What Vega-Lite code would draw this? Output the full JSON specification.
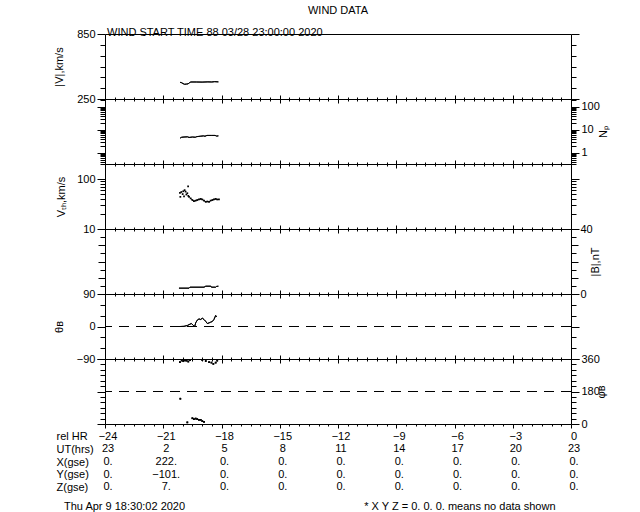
{
  "$schema": "https://vega.github.io/schema/vega-lite/v6.json",
  "background": "white",
  "padding": {"left": 52, "top": 4, "right": 5, "bottom": 0},
  "title": {"text": "WIND DATA", "fontSize": 11, "fontWeight": "normal", "font": "Liberation Sans", "color": "black", "anchor": "middle", "frame": "group", "offset": 11},
  "spacing": 0,
  "bounds": "flush",
  "datasets": {
    "v": [
      {"hr": -20.13, "v": 404}, {"hr": -20.05, "v": 400}, {"hr": -19.98, "v": 392}, {"hr": -19.9, "v": 386},
      {"hr": -19.8, "v": 388}, {"hr": -19.72, "v": 390}, {"hr": -19.65, "v": 400}, {"hr": -19.58, "v": 407},
      {"hr": -19.3, "v": 407}, {"hr": -19.0, "v": 406}, {"hr": -18.7, "v": 408}, {"hr": -18.5, "v": 407},
      {"hr": -18.35, "v": 410}, {"hr": -18.16, "v": 408}
    ],
    "np": [
      {"hr": -20.13, "n": 4.4}, {"hr": -20.05, "n": 4.8}, {"hr": -19.93, "n": 4.9}, {"hr": -19.75, "n": 5.0},
      {"hr": -19.67, "n": 4.7}, {"hr": -19.5, "n": 4.9}, {"hr": -19.35, "n": 4.8}, {"hr": -19.27, "n": 5.1},
      {"hr": -19.1, "n": 5.3}, {"hr": -18.93, "n": 5.5}, {"hr": -18.85, "n": 5.3}, {"hr": -18.75, "n": 5.75},
      {"hr": -18.5, "n": 5.75}, {"hr": -18.33, "n": 5.75}, {"hr": -18.25, "n": 5.4}, {"hr": -18.16, "n": 5.5}
    ],
    "vth": [
      {"hr": -20.14, "vth": 53, "seg": "s"}, {"hr": -20.12, "vth": 44, "seg": "s"}, {"hr": -20.07, "vth": 55, "seg": "s"},
      {"hr": -20.0, "vth": 50, "seg": "s"}, {"hr": -19.97, "vth": 57, "seg": "s"}, {"hr": -19.93, "vth": 45, "seg": "s"},
      {"hr": -19.9, "vth": 60, "seg": "s"}, {"hr": -19.85, "vth": 56, "seg": "s"}, {"hr": -19.81, "vth": 49, "seg": "s"},
      {"hr": -19.76, "vth": 52, "seg": "s"}, {"hr": -19.71, "vth": 46, "seg": "s"}, {"hr": -19.72, "vth": 71, "seg": "s"},
      {"hr": -19.67, "vth": 44, "seg": "s"},
      {"hr": -19.59, "vth": 41, "seg": "c"}, {"hr": -19.5, "vth": 38, "seg": "c"}, {"hr": -19.42, "vth": 36, "seg": "c"},
      {"hr": -19.33, "vth": 37, "seg": "c"}, {"hr": -19.25, "vth": 38, "seg": "c"}, {"hr": -19.16, "vth": 39, "seg": "c"},
      {"hr": -19.07, "vth": 40, "seg": "c"}, {"hr": -18.99, "vth": 39, "seg": "c"}, {"hr": -18.9, "vth": 37, "seg": "c"},
      {"hr": -18.81, "vth": 35, "seg": "c"}, {"hr": -18.73, "vth": 35.5, "seg": "c"}, {"hr": -18.64, "vth": 35, "seg": "c"},
      {"hr": -18.56, "vth": 37, "seg": "c"}, {"hr": -18.47, "vth": 38, "seg": "c"}, {"hr": -18.39, "vth": 39, "seg": "c"},
      {"hr": -18.3, "vth": 40, "seg": "c"}, {"hr": -18.22, "vth": 39, "seg": "c"}, {"hr": -18.13, "vth": 39, "seg": "c"}
    ],
    "b": [
      {"hr": -20.19, "b": 3.6}, {"hr": -19.67, "b": 3.6}, {"hr": -19.62, "b": 4.2}, {"hr": -18.9, "b": 4.2},
      {"hr": -18.81, "b": 4.8}, {"hr": -18.55, "b": 4.8}, {"hr": -18.52, "b": 4.2}, {"hr": -18.3, "b": 4.2},
      {"hr": -18.25, "b": 4.7}, {"hr": -18.16, "b": 4.8}
    ],
    "theta": [
      {"hr": -20.14, "t": 0}, {"hr": -19.93, "t": 0.5}, {"hr": -19.76, "t": 2.8}, {"hr": -19.62, "t": 6.5},
      {"hr": -19.55, "t": 8.3}, {"hr": -19.45, "t": 2.8}, {"hr": -19.38, "t": 0}, {"hr": -19.33, "t": 10},
      {"hr": -19.25, "t": 17.5}, {"hr": -19.16, "t": 21}, {"hr": -19.07, "t": 19.4}, {"hr": -18.99, "t": 23},
      {"hr": -18.9, "t": 19.4}, {"hr": -18.81, "t": 13.9}, {"hr": -18.73, "t": 8.3}, {"hr": -18.64, "t": 10},
      {"hr": -18.56, "t": 12}, {"hr": -18.47, "t": 13.9}, {"hr": -18.39, "t": 19.4}, {"hr": -18.3, "t": 30.5},
      {"hr": -18.25, "t": 26.8}
    ],
    "phi": [
      {"hr": -20.14, "p": 343}, {"hr": -20.05, "p": 352}, {"hr": -19.97, "p": 348}, {"hr": -19.88, "p": 353},
      {"hr": -19.8, "p": 351}, {"hr": -19.71, "p": 346}, {"hr": -19.62, "p": 354}, {"hr": -20.12, "p": 140},
      {"hr": -19.76, "p": 9}, {"hr": -19.5, "p": 32}, {"hr": -19.42, "p": 27}, {"hr": -19.33, "p": 30},
      {"hr": -19.25, "p": 27}, {"hr": -19.16, "p": 23}, {"hr": -19.07, "p": 23}, {"hr": -18.99, "p": 16},
      {"hr": -18.9, "p": 12}, {"hr": -18.99, "p": 354}, {"hr": -18.81, "p": 349}, {"hr": -18.64, "p": 343},
      {"hr": -18.52, "p": 340}, {"hr": -18.42, "p": 333}, {"hr": -18.3, "p": 340}, {"hr": -18.22, "p": 351}
    ],
    "table": [
      {"row": "rel HR", "hr": -24, "text": "−24"}, {"row": "rel HR", "hr": -21, "text": "−21"}, {"row": "rel HR", "hr": -18, "text": "−18"},
      {"row": "rel HR", "hr": -15, "text": "−15"}, {"row": "rel HR", "hr": -12, "text": "−12"}, {"row": "rel HR", "hr": -9, "text": "−9"},
      {"row": "rel HR", "hr": -6, "text": "−6"}, {"row": "rel HR", "hr": -3, "text": "−3"}, {"row": "rel HR", "hr": 0, "text": "0"},
      {"row": "UT(hrs)", "hr": -24, "text": "23"}, {"row": "UT(hrs)", "hr": -21, "text": "2"}, {"row": "UT(hrs)", "hr": -18, "text": "5"},
      {"row": "UT(hrs)", "hr": -15, "text": "8"}, {"row": "UT(hrs)", "hr": -12, "text": "11"}, {"row": "UT(hrs)", "hr": -9, "text": "14"},
      {"row": "UT(hrs)", "hr": -6, "text": "17"}, {"row": "UT(hrs)", "hr": -3, "text": "20"}, {"row": "UT(hrs)", "hr": 0, "text": "23"},
      {"row": "X(gse)", "hr": -24, "text": "0."}, {"row": "X(gse)", "hr": -21, "text": "222."}, {"row": "X(gse)", "hr": -18, "text": "0."},
      {"row": "X(gse)", "hr": -15, "text": "0."}, {"row": "X(gse)", "hr": -12, "text": "0."}, {"row": "X(gse)", "hr": -9, "text": "0."},
      {"row": "X(gse)", "hr": -6, "text": "0."}, {"row": "X(gse)", "hr": -3, "text": "0."}, {"row": "X(gse)", "hr": 0, "text": "0."},
      {"row": "Y(gse)", "hr": -24, "text": "0."}, {"row": "Y(gse)", "hr": -21, "text": "−101."}, {"row": "Y(gse)", "hr": -18, "text": "0."},
      {"row": "Y(gse)", "hr": -15, "text": "0."}, {"row": "Y(gse)", "hr": -12, "text": "0."}, {"row": "Y(gse)", "hr": -9, "text": "0."},
      {"row": "Y(gse)", "hr": -6, "text": "0."}, {"row": "Y(gse)", "hr": -3, "text": "0."}, {"row": "Y(gse)", "hr": 0, "text": "0."},
      {"row": "Z(gse)", "hr": -24, "text": "0."}, {"row": "Z(gse)", "hr": -21, "text": "7."}, {"row": "Z(gse)", "hr": -18, "text": "0."},
      {"row": "Z(gse)", "hr": -15, "text": "0."}, {"row": "Z(gse)", "hr": -12, "text": "0."}, {"row": "Z(gse)", "hr": -9, "text": "0."},
      {"row": "Z(gse)", "hr": -6, "text": "0."}, {"row": "Z(gse)", "hr": -3, "text": "0."}, {"row": "Z(gse)", "hr": 0, "text": "0."}
    ]
  },
  "vconcat": [
    {
      "width": 466, "height": 65,
      "title": {"text": "WIND START TIME  88 03/28 23:00:00 2020", "anchor": "start", "frame": "group", "offset": -10, "dx": 2, "fontSize": 11, "fontWeight": "normal", "font": "Liberation Sans", "color": "black"},
      "resolve": {"axis": {"x": "independent", "y": "independent"}},
      "layer": [
        {
          "data": {"name": "v"},
          "mark": {"type": "line", "color": "black", "strokeWidth": 1},
          "encoding": {
            "x": {"field": "hr", "type": "quantitative", "scale": {"domain": [-24, 0], "nice": false, "zero": false},
              "axis": {"orient": "bottom", "title": null, "labels": false, "values": [-24,-23.5,-23,-22.5,-22,-21.5,-21,-20.5,-20,-19.5,-19,-18.5,-18,-17.5,-17,-16.5,-16,-15.5,-15,-14.5,-14,-13.5,-13,-12.5,-12,-11.5,-11,-10.5,-10,-9.5,-9,-8.5,-8,-7.5,-7,-6.5,-6,-5.5,-5,-4.5,-4,-3.5,-3,-2.5,-2,-1.5,-1,-0.5,0], "tickSize": {"condition": {"test": "datum.value % 3 === 0", "value": 4}, "value": 2}}},
            "y": {"field": "v", "type": "quantitative", "scale": {"domain": [250, 850], "nice": false, "zero": false},
              "axis": {"orient": "left", "title": "|V|,km/s", "values": [250,350,450,550,650,750,850], "tickSize": {"condition": {"test": "datum.value == 250 || datum.value == 850", "value": 8}, "value": 5}, "labelExpr": "datum.value == 250 || datum.value == 850 ? datum.label : ''", "titlePadding": 12}}
          }
        },
        {
          "data": {"name": "v"},
          "mark": {"type": "line", "color": "black", "strokeWidth": 1},
          "encoding": {
            "x": {"field": "hr", "type": "quantitative", "scale": {"domain": [-24, 0], "nice": false, "zero": false}, "axis": null},
            "y": {"field": "v", "type": "quantitative", "scale": {"domain": [250, 850], "nice": false, "zero": false},
              "axis": {"orient": "right", "title": null, "labels": false, "values": [250,350,450,550,650,750,850], "tickSize": {"condition": {"test": "datum.value == 250 || datum.value == 850", "value": 8}, "value": 5}}}
          }
        }
      ]
    },
    {
      "width": 466, "height": 65,
      "resolve": {"axis": {"x": "independent", "y": "independent"}},
      "layer": [
        {
          "data": {"name": "np"},
          "mark": {"type": "line", "color": "black", "strokeWidth": 1},
          "encoding": {
            "x": {"field": "hr", "type": "quantitative", "scale": {"domain": [-24, 0], "nice": false, "zero": false},
              "axis": {"orient": "bottom", "title": null, "labels": false, "values": [-24,-23.5,-23,-22.5,-22,-21.5,-21,-20.5,-20,-19.5,-19,-18.5,-18,-17.5,-17,-16.5,-16,-15.5,-15,-14.5,-14,-13.5,-13,-12.5,-12,-11.5,-11,-10.5,-10,-9.5,-9,-8.5,-8,-7.5,-7,-6.5,-6,-5.5,-5,-4.5,-4,-3.5,-3,-2.5,-2,-1.5,-1,-0.5,0], "tickSize": {"condition": {"test": "datum.value % 3 === 0", "value": 4}, "value": 2}}},
            "y": {"field": "n", "type": "quantitative", "scale": {"type": "log", "domain": [0.33, 220], "nice": false},
              "axis": {"orient": "left", "title": null, "labels": false, "values": [0.4,0.5,0.6,0.7,0.8,0.9,1,2,3,4,5,6,7,8,9,10,20,30,40,50,60,70,80,90,100,200], "tickSize": {"condition": {"test": "datum.value === 1 || datum.value === 10 || datum.value === 100", "value": 8}, "value": 5}}}
          }
        },
        {
          "data": {"name": "np"},
          "mark": {"type": "line", "color": "black", "strokeWidth": 1},
          "encoding": {
            "x": {"field": "hr", "type": "quantitative", "scale": {"domain": [-24, 0], "nice": false, "zero": false},
              "axis": {"orient": "top", "title": null, "labels": false, "values": [-24,-23.5,-23,-22.5,-22,-21.5,-21,-20.5,-20,-19.5,-19,-18.5,-18,-17.5,-17,-16.5,-16,-15.5,-15,-14.5,-14,-13.5,-13,-12.5,-12,-11.5,-11,-10.5,-10,-9.5,-9,-8.5,-8,-7.5,-7,-6.5,-6,-5.5,-5,-4.5,-4,-3.5,-3,-2.5,-2,-1.5,-1,-0.5,0], "tickSize": {"condition": {"test": "datum.value % 3 === 0", "value": 4}, "value": 2}}},
            "y": {"field": "n", "type": "quantitative", "scale": {"type": "log", "domain": [0.33, 220], "nice": false},
              "axis": {"orient": "right", "title": "Nₚ", "titleAngle": 270, "titlePadding": 9, "values": [0.4,0.5,0.6,0.7,0.8,0.9,1,2,3,4,5,6,7,8,9,10,20,30,40,50,60,70,80,90,100,200], "tickSize": {"condition": {"test": "datum.value === 1 || datum.value === 10 || datum.value === 100", "value": 8}, "value": 5}, "labelExpr": "datum.value === 1 || datum.value === 10 || datum.value === 100 ? format(datum.value, 'd') : ''"}}
          }
        }
      ]
    },
    {
      "width": 466, "height": 65,
      "resolve": {"axis": {"x": "independent", "y": "independent"}},
      "layer": [
        {
          "data": {"name": "vth"},
          "mark": {"type": "point", "shape": "square", "filled": true, "size": 3, "color": "black", "opacity": 1},
          "encoding": {
            "x": {"field": "hr", "type": "quantitative", "scale": {"domain": [-24, 0], "nice": false, "zero": false},
              "axis": {"orient": "bottom", "title": null, "labels": false, "values": [-24,-23.5,-23,-22.5,-22,-21.5,-21,-20.5,-20,-19.5,-19,-18.5,-18,-17.5,-17,-16.5,-16,-15.5,-15,-14.5,-14,-13.5,-13,-12.5,-12,-11.5,-11,-10.5,-10,-9.5,-9,-8.5,-8,-7.5,-7,-6.5,-6,-5.5,-5,-4.5,-4,-3.5,-3,-2.5,-2,-1.5,-1,-0.5,0], "tickSize": {"condition": {"test": "datum.value % 3 === 0", "value": 4}, "value": 2}}},
            "y": {"field": "vth", "type": "quantitative", "scale": {"type": "log", "domain": [10, 200], "nice": false},
              "axis": {"orient": "left", "title": "Vₜₕ,km/s", "titlePadding": 10, "values": [10,20,30,40,50,60,70,80,90,100,200], "tickSize": {"condition": {"test": "datum.value === 10 || datum.value === 100", "value": 8}, "value": 5}, "labelExpr": "datum.value === 10 || datum.value === 100 ? format(datum.value, 'd') : ''"}}
          }
        },
        {
          "data": {"name": "vth"},
          "transform": [{"filter": "datum.seg === 'c'"}],
          "mark": {"type": "line", "color": "black", "strokeWidth": 1},
          "encoding": {
            "x": {"field": "hr", "type": "quantitative", "scale": {"domain": [-24, 0], "nice": false, "zero": false},
              "axis": {"orient": "top", "title": null, "labels": false, "values": [-24,-23.5,-23,-22.5,-22,-21.5,-21,-20.5,-20,-19.5,-19,-18.5,-18,-17.5,-17,-16.5,-16,-15.5,-15,-14.5,-14,-13.5,-13,-12.5,-12,-11.5,-11,-10.5,-10,-9.5,-9,-8.5,-8,-7.5,-7,-6.5,-6,-5.5,-5,-4.5,-4,-3.5,-3,-2.5,-2,-1.5,-1,-0.5,0], "tickSize": {"condition": {"test": "datum.value % 3 === 0", "value": 4}, "value": 2}}},
            "y": {"field": "vth", "type": "quantitative", "scale": {"type": "log", "domain": [10, 200], "nice": false},
              "axis": {"orient": "right", "title": null, "labels": false, "values": [10,20,30,40,50,60,70,80,90,100,200], "tickSize": {"condition": {"test": "datum.value === 10 || datum.value === 100", "value": 8}, "value": 5}}}
          }
        }
      ]
    },
    {
      "width": 466, "height": 65,
      "resolve": {"axis": {"x": "independent", "y": "independent"}},
      "layer": [
        {
          "data": {"name": "b"},
          "mark": {"type": "line", "color": "black", "strokeWidth": 1},
          "encoding": {
            "x": {"field": "hr", "type": "quantitative", "scale": {"domain": [-24, 0], "nice": false, "zero": false},
              "axis": {"orient": "bottom", "title": null, "labels": false, "values": [-24,-23.5,-23,-22.5,-22,-21.5,-21,-20.5,-20,-19.5,-19,-18.5,-18,-17.5,-17,-16.5,-16,-15.5,-15,-14.5,-14,-13.5,-13,-12.5,-12,-11.5,-11,-10.5,-10,-9.5,-9,-8.5,-8,-7.5,-7,-6.5,-6,-5.5,-5,-4.5,-4,-3.5,-3,-2.5,-2,-1.5,-1,-0.5,0], "tickSize": {"condition": {"test": "datum.value % 3 === 0", "value": 4}, "value": 2}}},
            "y": {"field": "b", "type": "quantitative", "scale": {"domain": [0, 40], "nice": false},
              "axis": {"orient": "left", "title": null, "labels": false, "values": [0,5,10,15,20,25,30,35,40], "tickSize": {"condition": {"test": "datum.value % 10 === 0", "value": 7}, "value": 5}}}
          }
        },
        {
          "data": {"name": "b"},
          "mark": {"type": "line", "color": "black", "strokeWidth": 1},
          "encoding": {
            "x": {"field": "hr", "type": "quantitative", "scale": {"domain": [-24, 0], "nice": false, "zero": false},
              "axis": {"orient": "top", "title": null, "labels": false, "values": [-24,-23.5,-23,-22.5,-22,-21.5,-21,-20.5,-20,-19.5,-19,-18.5,-18,-17.5,-17,-16.5,-16,-15.5,-15,-14.5,-14,-13.5,-13,-12.5,-12,-11.5,-11,-10.5,-10,-9.5,-9,-8.5,-8,-7.5,-7,-6.5,-6,-5.5,-5,-4.5,-4,-3.5,-3,-2.5,-2,-1.5,-1,-0.5,0], "tickSize": {"condition": {"test": "datum.value % 3 === 0", "value": 4}, "value": 2}}},
            "y": {"field": "b", "type": "quantitative", "scale": {"domain": [0, 40], "nice": false},
              "axis": {"orient": "right", "title": "|B|,nT", "titleAngle": 270, "titlePadding": 8, "values": [0,5,10,15,20,25,30,35,40], "tickSize": {"condition": {"test": "datum.value % 10 === 0", "value": 7}, "value": 5}, "labelExpr": "datum.value === 0 || datum.value === 40 ? format(datum.value, 'd') : ''"}}
          }
        }
      ]
    },
    {
      "width": 466, "height": 65,
      "resolve": {"axis": {"x": "independent", "y": "independent"}},
      "layer": [
        {
          "data": {"name": "theta"},
          "mark": {"type": "line", "color": "black", "strokeWidth": 1},
          "encoding": {
            "x": {"field": "hr", "type": "quantitative", "scale": {"domain": [-24, 0], "nice": false, "zero": false},
              "axis": {"orient": "bottom", "title": null, "labels": false, "values": [-24,-23.5,-23,-22.5,-22,-21.5,-21,-20.5,-20,-19.5,-19,-18.5,-18,-17.5,-17,-16.5,-16,-15.5,-15,-14.5,-14,-13.5,-13,-12.5,-12,-11.5,-11,-10.5,-10,-9.5,-9,-8.5,-8,-7.5,-7,-6.5,-6,-5.5,-5,-4.5,-4,-3.5,-3,-2.5,-2,-1.5,-1,-0.5,0], "tickSize": {"condition": {"test": "datum.value % 3 === 0", "value": 4}, "value": 2}}},
            "y": {"field": "t", "type": "quantitative", "scale": {"domain": [-90, 90], "nice": false},
              "axis": {"orient": "left", "title": "θʙ", "titlePadding": 12, "values": [-90,-60,-30,0,30,60,90], "tickSize": {"condition": {"test": "datum.value % 90 === 0", "value": 8}, "value": 5}, "labelExpr": "datum.value % 90 === 0 ? datum.label : ''"}}
          }
        },
        {
          "data": {"name": "theta"},
          "mark": {"type": "line", "color": "black", "strokeWidth": 1},
          "encoding": {
            "x": {"field": "hr", "type": "quantitative", "scale": {"domain": [-24, 0], "nice": false, "zero": false},
              "axis": {"orient": "top", "title": null, "labels": false, "values": [-24,-23.5,-23,-22.5,-22,-21.5,-21,-20.5,-20,-19.5,-19,-18.5,-18,-17.5,-17,-16.5,-16,-15.5,-15,-14.5,-14,-13.5,-13,-12.5,-12,-11.5,-11,-10.5,-10,-9.5,-9,-8.5,-8,-7.5,-7,-6.5,-6,-5.5,-5,-4.5,-4,-3.5,-3,-2.5,-2,-1.5,-1,-0.5,0], "tickSize": {"condition": {"test": "datum.value % 3 === 0", "value": 4}, "value": 2}}},
            "y": {"field": "t", "type": "quantitative", "scale": {"domain": [-90, 90], "nice": false},
              "axis": {"orient": "right", "title": null, "labels": false, "values": [-90,-60,-30,0,30,60,90], "tickSize": {"condition": {"test": "datum.value % 90 === 0", "value": 8}, "value": 5}}}
          }
        },
        {
          "data": {"values": [{"k": 0}]},
          "mark": {"type": "rule", "color": "black", "strokeWidth": 1, "strokeDash": [10, 7]},
          "encoding": {
            "y": {"datum": 0, "type": "quantitative", "scale": {"domain": [-90, 90], "nice": false}, "axis": null}
          }
        }
      ]
    },
    {
      "width": 466, "height": 65,
      "resolve": {"axis": {"x": "independent", "y": "independent"}},
      "layer": [
        {
          "data": {"name": "phi"},
          "mark": {"type": "point", "shape": "square", "filled": true, "size": 3, "color": "black", "opacity": 1},
          "encoding": {
            "x": {"field": "hr", "type": "quantitative", "scale": {"domain": [-24, 0], "nice": false, "zero": false},
              "axis": {"orient": "bottom", "title": null, "labels": false, "values": [-24,-23.5,-23,-22.5,-22,-21.5,-21,-20.5,-20,-19.5,-19,-18.5,-18,-17.5,-17,-16.5,-16,-15.5,-15,-14.5,-14,-13.5,-13,-12.5,-12,-11.5,-11,-10.5,-10,-9.5,-9,-8.5,-8,-7.5,-7,-6.5,-6,-5.5,-5,-4.5,-4,-3.5,-3,-2.5,-2,-1.5,-1,-0.5,0], "tickSize": {"condition": {"test": "datum.value % 3 === 0", "value": 4}, "value": 2}}},
            "y": {"field": "p", "type": "quantitative", "scale": {"domain": [0, 360], "nice": false},
              "axis": {"orient": "left", "title": null, "labels": false, "values": [0,30,60,90,120,150,180,210,240,270,300,330,360], "tickSize": {"condition": {"test": "datum.value % 180 === 0", "value": 8}, "value": 5}}}
          }
        },
        {
          "data": {"name": "phi"},
          "mark": {"type": "point", "shape": "square", "filled": true, "size": 3, "color": "black", "opacity": 1},
          "encoding": {
            "x": {"field": "hr", "type": "quantitative", "scale": {"domain": [-24, 0], "nice": false, "zero": false},
              "axis": {"orient": "top", "title": null, "labels": false, "values": [-24,-23.5,-23,-22.5,-22,-21.5,-21,-20.5,-20,-19.5,-19,-18.5,-18,-17.5,-17,-16.5,-16,-15.5,-15,-14.5,-14,-13.5,-13,-12.5,-12,-11.5,-11,-10.5,-10,-9.5,-9,-8.5,-8,-7.5,-7,-6.5,-6,-5.5,-5,-4.5,-4,-3.5,-3,-2.5,-2,-1.5,-1,-0.5,0], "tickSize": {"condition": {"test": "datum.value % 3 === 0", "value": 4}, "value": 2}}},
            "y": {"field": "p", "type": "quantitative", "scale": {"domain": [0, 360], "nice": false},
              "axis": {"orient": "right", "title": "φʙ", "titleAngle": 270, "titlePadding": 7, "values": [0,30,60,90,120,150,180,210,240,270,300,330,360], "tickSize": {"condition": {"test": "datum.value % 180 === 0", "value": 8}, "value": 5}, "labelExpr": "datum.value % 180 === 0 ? format(datum.value, 'd') : ''"}}
          }
        },
        {
          "data": {"values": [{"k": 0}]},
          "mark": {"type": "rule", "color": "black", "strokeWidth": 1, "strokeDash": [10, 7]},
          "encoding": {
            "y": {"datum": 180, "type": "quantitative", "scale": {"domain": [0, 360], "nice": false}, "axis": null}
          }
        }
      ]
    },
    {
      "width": 466, "height": 76,
      "view": {"stroke": null},
      "data": {"name": "table"},
      "mark": {"type": "text", "fontSize": 11, "dx": 3, "color": "black", "font": "Liberation Sans"},
      "encoding": {
        "x": {"field": "hr", "type": "quantitative", "scale": {"domain": [-24, 0], "nice": false, "zero": false}, "axis": null},
        "y": {"field": "row", "type": "ordinal", "sort": ["rel HR", "UT(hrs)", "X(gse)", "Y(gse)", "Z(gse)"], "scale": {"type": "point", "padding": 1.3},
          "axis": {"title": null, "ticks": false, "tickSize": 0, "labelAlign": "left", "labelPadding": 49, "labelFontSize": 11}},
        "text": {"field": "text"}
      }
    },
    {
      "width": 466, "height": 14,
      "view": {"stroke": null},
      "layer": [
        {
          "data": {"values": [{"t": "Thu Apr  9 18:30:02 2020"}]},
          "mark": {"type": "text", "align": "left", "dx": -41, "fontSize": 11, "color": "black", "font": "Liberation Sans"},
          "encoding": {
            "x": {"datum": -24, "type": "quantitative", "scale": {"domain": [-24, 0], "nice": false, "zero": false}, "axis": null},
            "text": {"field": "t"}
          }
        },
        {
          "data": {"values": [{"t": "* X Y Z = 0. 0. 0. means no data shown"}]},
          "mark": {"type": "text", "align": "left", "dx": -32, "fontSize": 11, "color": "black", "font": "Liberation Sans"},
          "encoding": {
            "x": {"datum": -9, "type": "quantitative", "scale": {"domain": [-24, 0], "nice": false, "zero": false}, "axis": null},
            "text": {"field": "t"}
          }
        }
      ]
    }
  ],
  "config": {
    "view": {"stroke": "black", "strokeWidth": 1},
    "font": "Liberation Sans",
    "axis": {
      "domain": false, "grid": false, "tickColor": "black", "tickWidth": 1,
      "labelFont": "Liberation Sans", "labelFontSize": 11, "labelColor": "black", "labelOverlap": false, "labelFlush": false, "labelBound": false, "labelPadding": 2,
      "titleFont": "Liberation Sans", "titleFontSize": 11, "titleFontWeight": "normal", "titleColor": "black"
    }
  }
}
